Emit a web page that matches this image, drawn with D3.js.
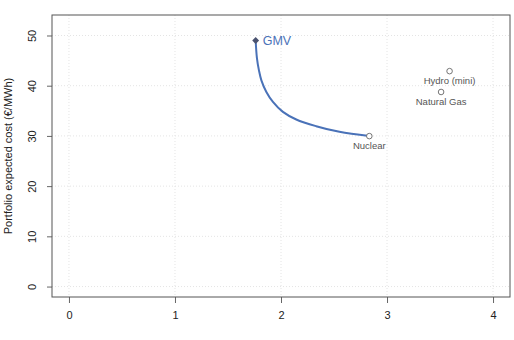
<!DOCTYPE html>
<html>
<head>
<meta charset="utf-8">
<script src="https://cdn.jsdelivr.net/npm/d3@7"></script>
<style>
  body { margin: 0; background: #fff; }
  svg { display: block; font-family: 'Liberation Sans', Arial, sans-serif; }
</style>
</head>
<body>
<div id="main"></div>
<script>
// efficient frontier (risk, expected cost)
var frontier_risk = [1.761, 1.773, 1.792, 1.815, 1.862, 1.924, 2.018, 2.144, 2.332, 2.551, 2.833]
var frontier_cost = [49.0, 45.5, 43.05, 41.07, 38.75, 36.77, 34.78, 33.27, 31.94, 30.81, 29.96]

var tech_names = ['Nuclear', 'Hydro (mini)', 'Natural Gas']
var tech_risk = [2.833, 3.59, 3.51]
var tech_cost = [29.96, 42.9, 38.75]

var gmv = { name: 'GMV', risk: 1.761, cost: 49.0 }

var x_ticks = [0, 1, 2, 3, 4]
var y_ticks = [0, 10, 20, 30, 40, 50]
var y_title = 'Portfolio expected cost (€/MWh)'

var w = 514
var h = 340
var p_left = 52, p_right = 510, p_top = 15, p_bottom = 297

var svg = d3.select('div#main').append('svg')
  .attr('width', w)
  .attr('height', h)

var scale_x = d3.scaleLinear().domain([-0.16, 4.16]).range([p_left, p_right])
var scale_y = d3.scaleLinear().domain([-2.08, 54.08]).range([p_bottom, p_top])

// grid
x_ticks.forEach(function (v) {
  svg.append('line')
    .attr('x1', scale_x(v)).attr('x2', scale_x(v))
    .attr('y1', p_top).attr('y2', p_bottom)
    .attr('stroke', '#e4e4e4')
    .attr('stroke-dasharray', '1,2')
})
y_ticks.forEach(function (v) {
  svg.append('line')
    .attr('x1', p_left).attr('x2', p_right)
    .attr('y1', scale_y(v)).attr('y2', scale_y(v))
    .attr('stroke', '#e4e4e4')
    .attr('stroke-dasharray', '1,2')
})

// axes
var x_axis = d3.axisBottom(scale_x).tickValues(x_ticks).tickSize(6).tickPadding(8)
  .tickFormat(d3.format('d'))
var gx = svg.append('g').attr('transform', 'translate(0,' + p_bottom + ')').call(x_axis)
gx.select('.domain').remove()
gx.selectAll('line').attr('stroke', '#666')
gx.selectAll('text').style('font-size', '11px').attr('fill', '#222')

var y_axis = d3.axisLeft(scale_y).tickValues(y_ticks).tickSize(5).tickPadding(0)
  .tickFormat(d3.format('d'))
var gy = svg.append('g').attr('transform', 'translate(' + p_left + ',0)').call(y_axis)
gy.select('.domain').remove()
gy.selectAll('line').attr('stroke', '#666')
gy.selectAll('text')
  .style('font-size', '11px')
  .attr('fill', '#222')
  .attr('x', null).attr('dy', null)
  .attr('text-anchor', 'middle')
  .attr('transform', 'translate(-16,0) rotate(-90)')

// box
svg.append('rect')
  .attr('x', p_left).attr('y', p_top)
  .attr('width', p_right - p_left).attr('height', p_bottom - p_top)
  .attr('fill', 'none')
  .attr('stroke', '#555')
  .attr('stroke-width', 1)

svg.append('text')
  .text(y_title)
  .attr('transform', 'translate(12,' + ((p_top + p_bottom) / 2) + ') rotate(-90)')
  .attr('text-anchor', 'middle')
  .style('font-size', '11px')
  .attr('fill', '#222')

// frontier
var line = d3.line()
  .x(function (d, i) { return scale_x(frontier_risk[i]) })
  .y(function (d, i) { return scale_y(frontier_cost[i]) })
  .curve(d3.curveCatmullRom)
svg.append('path')
  .attr('d', line(frontier_risk))
  .attr('fill', 'none')
  .attr('stroke', '#4a72b8')
  .attr('stroke-width', 2)

// technologies
tech_names.forEach(function (name, i) {
  var cx = scale_x(tech_risk[i])
  var cy = scale_y(tech_cost[i])
  svg.append('circle')
    .attr('cx', cx).attr('cy', cy).attr('r', 2.8)
    .attr('fill', 'white')
    .attr('stroke', '#666')
    .attr('stroke-width', 0.9)
  svg.append('text')
    .text(name)
    .attr('x', cx).attr('y', cy + 13)
    .attr('text-anchor', 'middle')
    .style('font-size', '9.5px')
    .attr('fill', '#555')
})

// GMV
svg.append('path')
  .attr('d', d3.symbol().type(d3.symbolDiamond2).size(30)())
  .attr('transform', 'translate(' + scale_x(gmv.risk) + ',' + scale_y(gmv.cost) + ')')
  .attr('fill', '#4a5270')
svg.append('text')
  .text(gmv.name)
  .attr('x', scale_x(gmv.risk) + 7)
  .attr('y', scale_y(gmv.cost) + 4.5)
  .style('font-size', '12.5px')
  .attr('fill', '#4a72b8')
</script>
</body>
</html>
